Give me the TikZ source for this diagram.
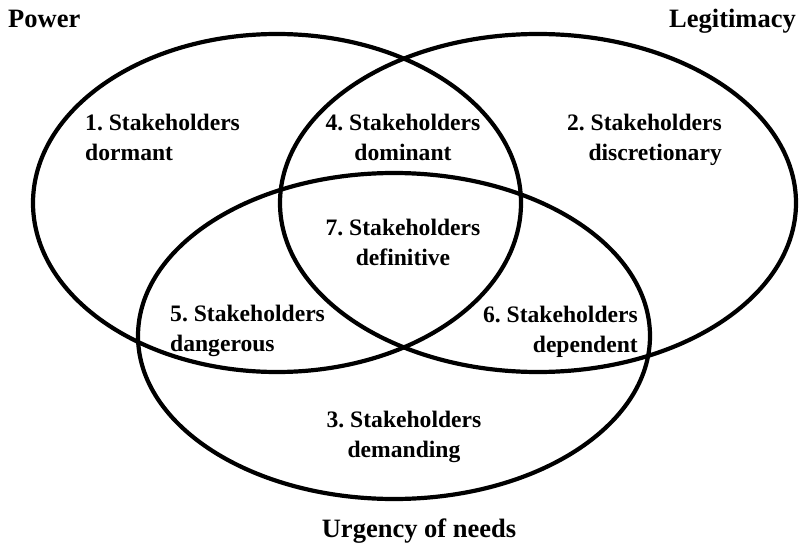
\documentclass[tikz,border=0pt]{standalone}
\usepackage{fontspec}
\setmainfont{Liberation Serif}
\frenchspacing
\begin{document}
\begin{tikzpicture}[x=1pt,y=-1pt,
  setline/.style={draw=black,line width=4.2pt},
  lab/.style={inner sep=0pt,font=\bfseries\fontsize{23.6}{30}\selectfont},
  ttl/.style={inner sep=0pt,font=\bfseries\fontsize{26.5}{30}\selectfont}]
\useasboundingbox (0,0) rectangle (812,543);
% the three sets
\draw[setline] (277,203) ellipse [x radius=244, y radius=169];
\draw[setline] (538,203) ellipse [x radius=258, y radius=169];
\draw[setline] (394,336) ellipse [x radius=256, y radius=163];
% titles
\node[ttl,anchor=base west] (power) at (8,28) {Power};
\node[ttl,anchor=base east] (legit) at (796,28) {Legitimacy};
\node[ttl,anchor=base] (urg) at (419,537) {Urgency of needs};
% region labels
\node[lab,anchor=north west,align=left] (s1) at (85,114) {1. Stakeholders\\dormant};
\node[lab,anchor=north,align=center] (s4) at (403,114) {4. Stakeholders\\dominant};
\node[lab,anchor=north east,align=right] (s2) at (722,114) {2. Stakeholders\\discretionary};
\node[lab,anchor=north,align=center] (s7) at (403,219) {7. Stakeholders\\definitive};
\node[lab,anchor=north west,align=left] (s5) at (170,305) {5. Stakeholders\\dangerous};
\node[lab,anchor=north east,align=right] (s6) at (638,306) {6. Stakeholders\\dependent};
\node[lab,anchor=north,align=center] (s3) at (404,411) {3. Stakeholders\\demanding};
\end{tikzpicture}
\end{document}
